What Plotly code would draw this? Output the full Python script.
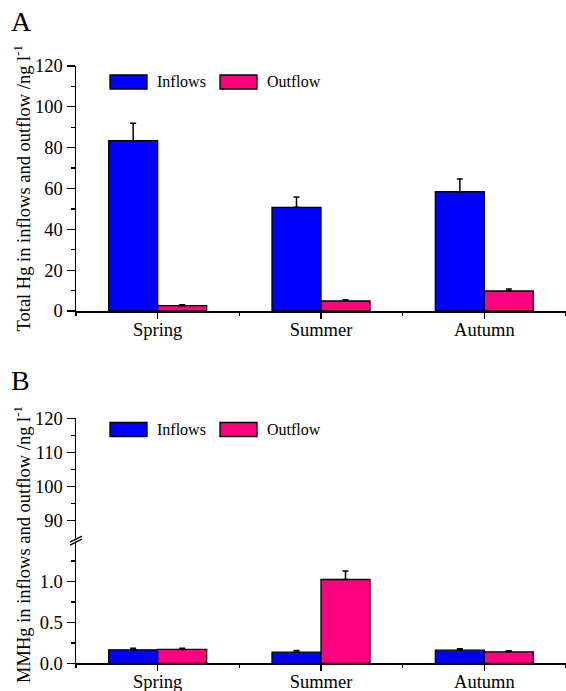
import plotly.graph_objects as go

# ---------------- data ----------------
seasons = ["Spring", "Summer", "Autumn"]
season_pos = [0, 1, 2]

thg_inflows = [83.4, 50.8, 58.4]
thg_inflows_err = [8.5, 5.0, 6.2]
thg_outflow = [2.6, 4.9, 9.8]
thg_outflow_err = [0.5, 0.6, 1.0]

mmhg_inflows = [0.165, 0.136, 0.160]
mmhg_inflows_err = [0.02, 0.02, 0.018]
mmhg_outflow = [0.170, 1.025, 0.140]
mmhg_outflow_err = [0.015, 0.105, 0.015]

series_names = ["Inflows", "Outflow"]
colors = ["#0000FF", "#FF0080"]

# ---------------- layout helpers ----------------
W, H = 566, 691
L = 76


def px_x(p):
    return (p - L) / (W - L)


def px_y(p):
    return (H - p) / H


FONT = "Times New Roman, Liberation Serif, serif"

fig = go.Figure()


def add_bars(xa, ya, vals, errs, name, color):
    fig.add_trace(go.Bar(
        x=season_pos, y=vals, name=name, xaxis=xa, yaxis=ya,
        marker=dict(color=color, line=dict(color="black", width=1.3)),
        error_y=dict(type="data", array=errs, arrayminus=[0] * len(errs),
                     symmetric=False, color="black", thickness=1.5, width=3),
        showlegend=False, hoverinfo="skip",
    ))


add_bars("x", "y", thg_inflows, thg_inflows_err, series_names[0], colors[0])
add_bars("x", "y", thg_outflow, thg_outflow_err, series_names[1], colors[1])
add_bars("x2", "y2", mmhg_inflows, mmhg_inflows_err, series_names[0], colors[0])
add_bars("x2", "y2", mmhg_outflow, mmhg_outflow_err, series_names[1], colors[1])
# upper segment of the broken axis (same data, lies below its range)
add_bars("x2", "y3", mmhg_inflows, mmhg_inflows_err, series_names[0], colors[0])
add_bars("x2", "y3", mmhg_outflow, mmhg_outflow_err, series_names[1], colors[1])

tickfont = dict(family=FONT, size=18.5, color="black")

xcommon = dict(
    range=[-0.5, 2.5], tickvals=season_pos, ticktext=seasons,
    showline=True, linecolor="black", linewidth=1.5,
    ticks="outside", ticklen=6, tickwidth=1.3, tickcolor="black",
    minor=dict(ticks="outside", ticklen=3, tickwidth=1.3, tickcolor="black",
               tickvals=[-0.5, 0.5, 1.5, 2.5]),
    showgrid=False, zeroline=False, tickfont=tickfont, fixedrange=True,
    ticklabelstandoff=-5, automargin=False,
)
ycommon = dict(
    showline=True, linecolor="black", linewidth=1.5,
    ticks="outside", ticklen=8, tickwidth=1.3, tickcolor="black",
    showgrid=False, zeroline=False, tickfont=tickfont, fixedrange=True,
    automargin=False,
)

yA = (px_y(311), px_y(66))
yBlow = (px_y(663.3), px_y(540.7))
yBup = (px_y(540.7), px_y(418.3))

fig.update_layout(
    template="none",
    width=W, height=H, autosize=False,
    margin=dict(l=L, r=0, t=0, b=0, pad=0),
    paper_bgcolor="white", plot_bgcolor="white",
    barmode="group", bargap=0.4, bargroupgap=0,
    font=dict(family=FONT, color="black"),
    showlegend=False,
    xaxis=dict(domain=[0, 1], anchor="y", **xcommon),
    yaxis=dict(domain=list(yA), anchor="x", range=[0, 120], dtick=20,
               minor=dict(ticks="outside", ticklen=4, tickwidth=1.3, tickcolor="black", dtick=10),
               **ycommon),
    xaxis2=dict(domain=[0, 1], anchor="y2", **xcommon),
    yaxis2=dict(domain=list(yBlow), anchor="x2", range=[0, 1.5],
                tickvals=[0, 0.5, 1.0], ticktext=["0.0", "0.5", "1.0"],
                minor=dict(ticks="outside", ticklen=4, tickwidth=1.3, tickcolor="black",
                           tickvals=[0.25, 0.75, 1.25]),
                **ycommon),
    yaxis3=dict(domain=list(yBup), anchor="x2", range=[84, 120],
                tickvals=[90, 100, 110, 120],
                minor=dict(ticks="outside", ticklen=4, tickwidth=1.3, tickcolor="black",
                           tickvals=[95, 105, 115]),
                **ycommon),
)

shapes = []
annotations = []

# panel labels
annotations.append(dict(text="A", x=px_x(9), y=px_y(39), xref="paper", yref="paper",
                        xanchor="left", yanchor="bottom", showarrow=False,
                        font=dict(family=FONT, size=28, color="black")))
annotations.append(dict(text="B", x=px_x(9), y=px_y(398), xref="paper", yref="paper",
                        xanchor="left", yanchor="bottom", showarrow=False,
                        font=dict(family=FONT, size=28, color="black")))

# y-axis titles
annotations.append(dict(text="Total Hg in inflows and outflow /ng l<sup>-1</sup>",
                        x=px_x(22), y=px_y(188.5), xref="paper", yref="paper",
                        textangle=-90, showarrow=False, xanchor="center", yanchor="middle",
                        font=dict(family=FONT, size=18.5, color="black")))
annotations.append(dict(text="MMHg in inflows and outflow /ng l<sup>-1</sup>",
                        x=px_x(22), y=px_y(545), xref="paper", yref="paper",
                        textangle=-90, showarrow=False, xanchor="center", yanchor="middle",
                        font=dict(family=FONT, size=18.5, color="black")))

# manual legends
for ycen in (82, 429.5):
    for i, (x0, x1, tx) in enumerate([(110, 147, 155), (220, 257, 264.5)]):
        shapes.append(dict(type="rect", xref="paper", yref="paper",
                           x0=px_x(x0), x1=px_x(x1), y0=px_y(ycen + 7), y1=px_y(ycen - 7),
                           fillcolor=colors[i], line=dict(color="black", width=1.3)))
        annotations.append(dict(text=series_names[i], x=px_x(tx), y=px_y(ycen),
                                xref="paper", yref="paper", xanchor="left", yanchor="middle",
                                showarrow=False, font=dict(family=FONT, size=16, color="black")))

# axis break marks
by = 540.7
shapes.append(dict(type="path", xref="paper", yref="paper",
                   path=f"M {px_x(70)},{px_y(by + 3.5)} L {px_x(82)},{px_y(by - 2.5)} "
                        f"L {px_x(82)},{px_y(by - 5.5)} L {px_x(70)},{px_y(by + 0.5)} Z",
                   fillcolor="white", line=dict(width=0)))
for off in (-1.5, 1.5):
    shapes.append(dict(type="line", xref="paper", yref="paper",
                       x0=px_x(70), y0=px_y(by + 3 + off), x1=px_x(82), y1=px_y(by - 3 + off),
                       line=dict(color="black", width=1.3)))

fig.update_layout(shapes=shapes, annotations=annotations)

fig.write_html("out.html", config={"displayModeBar": False, "staticPlot": True},
               post_script="document.body.style.margin='0';document.body.style.overflow='hidden';")
